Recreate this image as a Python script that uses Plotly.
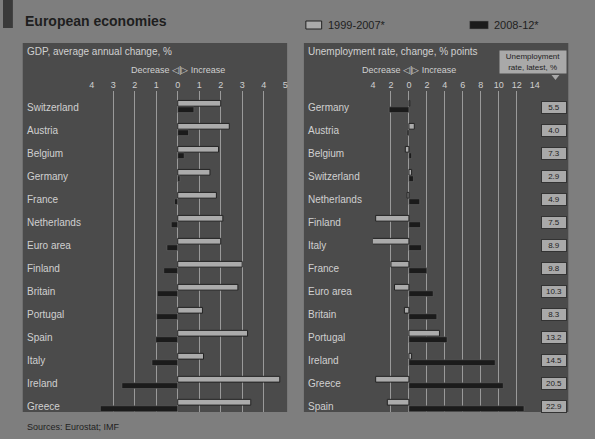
import plotly.graph_objects as go

W, H = 595, 439

# ---- data ----
gdp_countries = ["Switzerland", "Austria", "Belgium", "Germany", "France", "Netherlands",
                 "Euro area", "Finland", "Britain", "Portugal", "Spain", "Italy", "Ireland", "Greece"]
gdp_1999_2007 = [2.0, 2.4, 1.9, 1.5, 1.8, 2.1, 2.0, 3.0, 2.8, 1.15, 3.25, 1.2, 4.75, 3.4]
gdp_2008_12 = [0.75, 0.5, 0.3, 0.1, -0.15, -0.3, -0.5, -0.65, -0.95, -0.98, -1.02, -1.2, -2.6, -3.6]

un_countries = ["Germany", "Austria", "Belgium", "Switzerland", "Netherlands", "Finland", "Italy",
                "France", "Euro area", "Britain", "Portugal", "Ireland", "Greece", "Spain"]
un_1999_2007 = [0.1, 0.6, -0.4, 0.3, -0.2, -3.7, -4.1, -2.0, -1.6, -0.5, 3.4, 0.3, -3.7, -2.4]
un_2008_12 = [-2.2, -0.2, 0.3, 0.5, 1.2, 1.3, 1.4, 2.0, 2.7, 3.1, 4.25, 9.6, 10.5, 12.8]
un_latest = [5.5, 4.0, 7.3, 2.9, 4.9, 7.5, 8.9, 9.8, 10.3, 8.3, 13.2, 14.5, 20.5, 22.9]

gdp_ticks = [-4, -3, -2, -1, 0, 1, 2, 3, 4, 5]
un_ticks = [-4, -2, 0, 2, 4, 6, 8, 10, 12, 14]

series_names = ["1999-2007*", "2008-12*"]

# ---- styles ----
BG = "#7e7e7e"
PANEL = "#4b4b4b"
LIGHT = "#ababab"
DARK = "#1b1b1b"
GRID = "#9a9a9a"
TXT_LIGHT = "#d0d0d0"
TXT_DARK = "#1e1e1e"
FONT = "Liberation Sans"

def px(x):
    return x / W

def py(y):
    return 1 - y / H

fig = go.Figure()

bar_w = 0.25
fig.add_trace(go.Bar(y=gdp_countries, x=gdp_1999_2007, orientation="h", name=series_names[0],
                     marker=dict(color=LIGHT, line=dict(color="#222222", width=1)),
                     width=bar_w, offset=-0.29, xaxis="x", yaxis="y"))
fig.add_trace(go.Bar(y=gdp_countries, x=gdp_2008_12, orientation="h", name=series_names[1],
                     marker=dict(color=DARK, line=dict(color="#6a6a6a", width=0.5)),
                     width=bar_w, offset=-0.01, xaxis="x", yaxis="y"))
fig.add_trace(go.Bar(y=un_countries, x=un_1999_2007, orientation="h", name=series_names[0],
                     marker=dict(color=LIGHT, line=dict(color="#222222", width=1)),
                     width=bar_w, offset=-0.29, xaxis="x2", yaxis="y2"))
fig.add_trace(go.Bar(y=un_countries, x=un_2008_12, orientation="h", name=series_names[1],
                     marker=dict(color=DARK, line=dict(color="#6a6a6a", width=0.5)),
                     width=bar_w, offset=-0.01, xaxis="x2", yaxis="y2"))

ydom = [py(412), py(91)]
yrange = [13.26, -0.7]

axis_common = dict(side="top", showgrid=True, gridcolor=GRID, gridwidth=1, zeroline=False,
                   ticks="", tickfont=dict(family=FONT, size=9, color=TXT_LIGHT), fixedrange=True,
                   showline=False)

fig.update_layout(
    width=W, height=H, margin=dict(l=0, r=0, t=0, b=0),
    paper_bgcolor=BG, plot_bgcolor=PANEL, barmode="overlay", showlegend=False,
    font=dict(family=FONT, color=TXT_DARK),
    xaxis=dict(domain=[px(90), px(286)], range=[-4, 5], anchor="y",
               tickvals=gdp_ticks, ticktext=[str(abs(v)) for v in gdp_ticks], **axis_common),
    yaxis=dict(domain=ydom, range=yrange, type="category", categoryarray=gdp_countries,
               showticklabels=False, showgrid=False, zeroline=False, anchor="x"),
    xaxis2=dict(domain=[px(375), px(539)], range=[-4, 14], anchor="y2",
                tickvals=un_ticks, ticktext=[str(abs(v)) for v in un_ticks], **axis_common),
    yaxis2=dict(domain=ydom, range=yrange, type="category", categoryarray=un_countries,
                showticklabels=False, showgrid=False, zeroline=False, anchor="x2"),
)

shapes = [
    dict(type="rect", xref="paper", yref="paper", x0=px(20), x1=px(288), y0=py(412), y1=py(43),
         fillcolor=PANEL, line=dict(width=0), layer="below"),
    dict(type="rect", xref="paper", yref="paper", x0=px(305), x1=px(573), y0=py(412), y1=py(43),
         fillcolor=PANEL, line=dict(width=0), layer="below"),
    dict(type="rect", xref="paper", yref="paper", x0=0, x1=px(10), y0=py(28), y1=1,
         fillcolor="#3a3a3a", line=dict(width=0), layer="below"),
    dict(type="path", xref="paper", yref="paper",
         path=f"M {px(556)} {py(75)} L {px(564)} {py(75)} L {px(560)} {py(80)} Z",
         fillcolor="#a9a9a9", line=dict(width=0)),
    # legend swatches
    dict(type="rect", xref="paper", yref="paper", x0=px(307), x1=px(323), y0=py(29), y1=py(21),
         fillcolor=LIGHT, line=dict(color="#222222", width=1)),
    dict(type="rect", xref="paper", yref="paper", x0=px(473), x1=px(492), y0=py(29), y1=py(21),
         fillcolor=DARK, line=dict(color="#6a6a6a", width=0.5)),
]
fig.update_layout(shapes=shapes)

ann = [
    dict(text="<b>European economies</b>", x=px(20), y=py(21), xref="paper", yref="paper",
         xanchor="left", yanchor="middle", showarrow=False,
         font=dict(family=FONT, size=14, color=TXT_DARK)),
    dict(text=series_names[0], x=px(327), y=py(25), xref="paper", yref="paper",
         xanchor="left", yanchor="middle", showarrow=False,
         font=dict(family=FONT, size=11, color=TXT_DARK)),
    dict(text=series_names[1], x=px(496), y=py(25), xref="paper", yref="paper",
         xanchor="left", yanchor="middle", showarrow=False,
         font=dict(family=FONT, size=11, color=TXT_DARK)),
    dict(text="GDP, average annual change, %", x=px(22), y=py(51), xref="paper", yref="paper",
         xanchor="left", yanchor="middle", showarrow=False,
         font=dict(family=FONT, size=10, color=TXT_LIGHT)),
    dict(text="Unemployment rate, change, % points", x=px(307), y=py(51), xref="paper", yref="paper",
         xanchor="left", yanchor="middle", showarrow=False,
         font=dict(family=FONT, size=10, color=TXT_LIGHT)),
    dict(text="Decrease ◁|▷ Increase", x=0, y=py(70), xref="x", yref="paper",
         xanchor="center", yanchor="middle", showarrow=False,
         font=dict(family=FONT, size=9, color=TXT_LIGHT)),
    dict(text="Decrease ◁|▷ Increase", x=0, y=py(70), xref="x2", yref="paper",
         xanchor="center", yanchor="middle", showarrow=False,
         font=dict(family=FONT, size=9, color=TXT_LIGHT)),
    dict(text="Unemployment<br>rate, latest, %", x=px(537), y=py(62), xref="paper", yref="paper",
         xanchor="center", yanchor="middle", showarrow=False, bgcolor="#a9a9a9",
         width=66, height=22, borderpad=0,
         font=dict(family=FONT, size=8, color=TXT_DARK)),
    dict(text="Sources: Eurostat; IMF", x=px(22), y=py(427), xref="paper", yref="paper",
         xanchor="left", yanchor="middle", showarrow=False,
         font=dict(family=FONT, size=9, color=TXT_DARK)),
]
for c in gdp_countries:
    ann.append(dict(text=c, x=px(22), y=c, xref="paper", yref="y", xanchor="left",
                    yanchor="middle", showarrow=False,
                    font=dict(family=FONT, size=10, color=TXT_LIGHT)))
for c, v in zip(un_countries, un_latest):
    ann.append(dict(text=c, x=px(307), y=c, xref="paper", yref="y2", xanchor="left",
                    yanchor="middle", showarrow=False,
                    font=dict(family=FONT, size=10, color=TXT_LIGHT)))
    ann.append(dict(text=f"{v:.1f}", x=px(559), y=c, xref="paper", yref="y2", xanchor="center",
                    yanchor="middle", showarrow=False, bgcolor="#a9a9a9",
                    bordercolor="#333333", borderwidth=1, width=24, height=11, borderpad=0,
                    font=dict(family=FONT, size=8, color=TXT_DARK)))
fig.update_layout(annotations=ann)

fig.write_html("out.html")
